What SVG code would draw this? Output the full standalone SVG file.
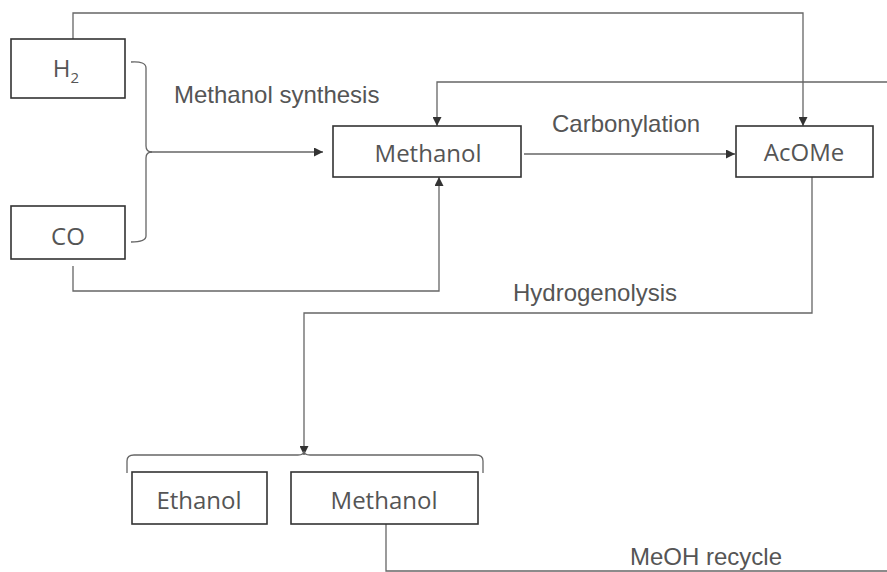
<svg xmlns="http://www.w3.org/2000/svg" width="887" height="572" viewBox="0 0 887 572">
<defs>
<marker id="ah" viewBox="0 0 10 10" refX="10" refY="5" markerWidth="9" markerHeight="9" markerUnits="userSpaceOnUse" orient="auto">
<path d="M0,0 L10,5 L0,10 Z" fill="#333"/>
</marker>
<style>
.box{fill:#fff;stroke:#333;stroke-width:1.6}
.ln{fill:none;stroke:#666;stroke-width:1.3}
.nt{font-family:"Open Sans","Noto Sans",sans-serif;font-size:24px;fill:#555;text-anchor:middle}
.lb{font-family:"Liberation Sans",Arial,sans-serif;font-size:24px;fill:#555}
</style>
</defs>
<rect width="887" height="572" fill="#fff"/>
<g id="connectors">
<path class="ln" d="M73,39 V13 H803 V126" marker-end="url(#ah)"/>
<path class="ln" d="M887,82 H437 V126" marker-end="url(#ah)"/>
<path class="ln" d="M131,62 Q146,61 146,68 V146 Q146,152 152,152 Q146,152 146,158 V236 Q146,242 131,242"/>
<path class="ln" d="M150,152 H323" marker-end="url(#ah)"/>
<path class="ln" d="M73,266 V291 H439 V177" marker-end="url(#ah)"/>
<path class="ln" d="M524,154 H735" marker-end="url(#ah)"/>
<path class="ln" d="M812,177 V313 H304 V455" marker-end="url(#ah)"/>
<path class="ln" d="M127,473 V461 Q127,455 134,455 H298 Q304,455 304,451 Q304,455 310,455 H476 Q483,455 483,461 V473"/>
<path class="ln" d="M386,524 V571 H887"/>
</g>
<g id="h2"><rect class="box" x="11" y="39" width="114" height="59"/><text class="nt" x="66" y="77">H<tspan font-size="15" dy="6">2</tspan></text></g>
<g id="co"><rect class="box" x="11" y="206" width="114" height="53"/><text class="nt" x="68" y="245">CO</text></g>
<g id="methanol1"><rect class="box" x="333" y="126" width="188" height="51"/><text class="nt" x="428" y="162">Methanol</text></g>
<g id="acome"><rect class="box" x="736" y="126" width="137" height="51"/><text class="nt" x="804" y="161">AcOMe</text></g>
<g id="ethanol"><rect class="box" x="132" y="472" width="135" height="52"/><text class="nt" x="199" y="509">Ethanol</text></g>
<g id="methanol2"><rect class="box" x="291" y="472" width="187" height="52"/><text class="nt" x="384" y="509">Methanol</text></g>
<g id="labels">
<text class="lb" x="174" y="103">Methanol synthesis</text>
<text class="lb" x="552" y="132">Carbonylation</text>
<text class="lb" x="513" y="301">Hydrogenolysis</text>
<text class="lb" x="630" y="565">MeOH recycle</text>
</g>
</svg>
